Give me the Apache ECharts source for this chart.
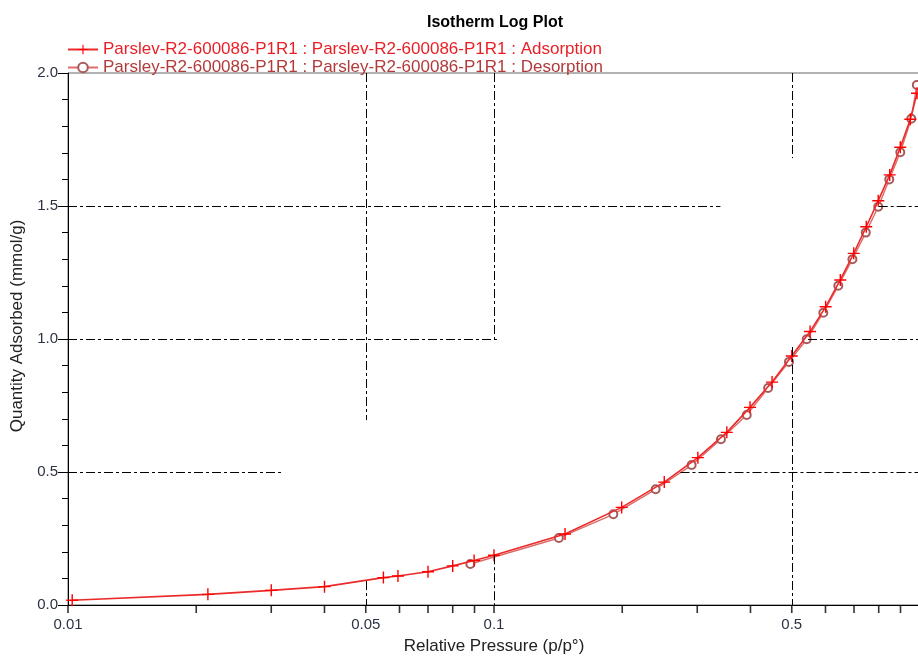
<!DOCTYPE html>
<html>
<head>
<meta charset="utf-8">
<script src="https://cdn.jsdelivr.net/npm/echarts@6/dist/echarts.min.js"></script>
<style>html,body{margin:0;padding:0;background:#fff;}#chart{width:918px;height:657px;}</style>
</head>
<body>
<div id="chart"></div>
<script>
// Adsorption branch (relative pressure, quantity adsorbed mmol/g)
var adsP = [0.01023, 0.0213, 0.0300, 0.0400, 0.0550, 0.0595, 0.0700, 0.0800, 0.0898, 0.1000, 0.1468, 0.1994, 0.2510, 0.3010, 0.3520, 0.3990, 0.4495, 0.5000, 0.5520, 0.6005, 0.6500, 0.6990, 0.7480, 0.7980, 0.8490, 0.8990, 0.9490, 0.9840];
var adsQ = [0.018, 0.040, 0.055, 0.069, 0.103, 0.109, 0.125, 0.147, 0.167, 0.187, 0.267, 0.367, 0.462, 0.554, 0.649, 0.743, 0.838, 0.936, 1.028, 1.121, 1.222, 1.322, 1.422, 1.520, 1.617, 1.721, 1.826, 1.924];
// Desorption branch
var desP = [0.983, 0.954, 0.899, 0.847, 0.798, 0.746, 0.694, 0.643, 0.593, 0.542, 0.4925, 0.440, 0.392, 0.341, 0.291, 0.2396, 0.1906, 0.142, 0.088];
var desQ = [1.955, 1.828, 1.702, 1.600, 1.497, 1.400, 1.300, 1.200, 1.099, 0.999, 0.914, 0.816, 0.714, 0.623, 0.526, 0.435, 0.341, 0.252, 0.154];
// Axis ticks / labels
var xTickValues = [0.01,0.02,0.03,0.04,0.05,0.06,0.07,0.08,0.09,0.1,0.2,0.3,0.4,0.5,0.6,0.7,0.8,0.9,1];
var xLabelValues = [0.01, 0.05, 0.1, 0.5];
var seriesNames = ['Parslev-R2-600086-P1R1 : Parslev-R2-600086-P1R1 : Adsorption', 'Parsley-R2-600086-P1R1 : Parsley-R2-600086-P1R1 : Desorption'];

function pairs(xs, ys){ return xs.map(function(x,i){ return [x, ys[i]]; }); }

var FONT = 'Liberation Sans, Arial, sans-serif';
var gridStyle = { color: '#000', width: 1, type: [9,3,3,3] };
function seg(a, b){ return [{coord: a}, {coord: b}]; }

var chart = echarts.init(document.getElementById('chart'), null, {renderer: 'canvas'});
chart.setOption({
  animation: false,
  backgroundColor: '#fff',
  title: {
    text: 'Isotherm Log Plot', left: 422, top: 10,
    textStyle: { fontFamily: FONT, fontSize: 16, fontWeight: 'bold', color: '#000' }
  },
  legend: {
    orient: 'vertical', left: 62, top: 36, itemGap: 1, itemWidth: 30, itemHeight: 12,
    textStyle: { fontFamily: FONT, fontSize: 17 },
    data: [
      { name: seriesNames[0], textStyle: { color: '#ea1f26' } },
      { name: seriesNames[1], textStyle: { color: '#b23a3a' } }
    ]
  },
  grid: { left: 68, right: -2, top: 73, bottom: 52, show: true, borderColor: '#666', borderWidth: 1,
    outerBoundsMode: 'none', containLabel: false },
  xAxis: {
    type: 'log', logBase: 10, min: 0.01, max: 1,
    name: 'Relative Pressure (p/p°)', nameLocation: 'middle', nameGap: 33,
    nameTextStyle: { fontFamily: FONT, fontSize: 17, color: '#222' },
    axisLine: { show: true, onZero: false, lineStyle: { color: '#000', width: 1 } },
    axisTick: { show: false },
    axisLabel: { customValues: xLabelValues, fontFamily: FONT, fontSize: 15, color: '#2b3242', margin: 12,
      formatter: function(v){ return String(+(+v).toPrecision(3)); } },
    splitLine: { show: false }, minorTick: { show: false }
  },
  yAxis: {
    type: 'value', min: 0, max: 2, interval: 0.5, position: 'left',
    name: 'Quantity Adsorbed (mmol/g)', nameLocation: 'middle', nameGap: 39,
    nameTextStyle: { fontFamily: FONT, fontSize: 17, color: '#222', padding: [0, 0, 0, 26] },
    axisLine: { show: true, onZero: false, lineStyle: { color: '#000', width: 1 } },
    axisTick: { show: true, length: 10, lineStyle: { color: '#000' } },
    minorTick: { show: true, splitNumber: 5, length: 6, lineStyle: { color: '#000' } },
    axisLabel: { fontFamily: FONT, fontSize: 15, color: '#2b3242', margin: 10,
      formatter: function(v){ return v.toFixed(1); } },
    splitLine: { show: false }
  },
  series: [
    {
      name: 'grid', type: 'line', data: [], silent: true, z: 1,
      markLine: {
        silent: true, symbol: 'none', label: { show: false }, lineStyle: gridStyle, animation: false,
        data: [
          seg([0.05, 2], [0.05, 0.695]), seg([0.05, 0.09], [0.05, 0]),
          seg([0.1, 2], [0.1, 1.0]), seg([0.1, 0.187], [0.1, 0]),
          seg([0.5, 2], [0.5, 1.68]), seg([0.5, 0.97], [0.5, 0]),
          seg([0.01, 0.5], [0.032, 0.5]), seg([0.274, 0.5], [1, 0.5]),
          seg([0.01, 1.0], [0.1016, 1.0]), seg([0.546, 1.0], [1, 1.0]),
          seg([0.01, 1.5], [0.34, 1.5]), seg([0.8, 1.5], [1, 1.5])
        ]
      }
    },
    {
      // x-axis tick marks (log decades 1..9), hanging below the axis line
      name: 'xticks', type: 'scatter', silent: true, z: 5, clip: false,
      data: xTickValues.map(function(v){ return [v, 0]; }),
      symbol: 'rect', symbolSize: [1.6, 8], symbolOffset: [0, 4],
      itemStyle: { color: '#000' }
    },
    {
      name: seriesNames[1], type: 'line', z: 3, data: pairs(desP, desQ),
      symbol: 'emptyCircle', symbolSize: 8,
      lineStyle: { color: '#de6a6a', width: 1.4 },
      itemStyle: { color: '#a85a5a', borderColor: '#a85a5a', borderWidth: 1 }
    },
    {
      name: seriesNames[0], type: 'line', z: 4, data: pairs(adsP, adsQ),
      symbol: 'path://M5.3,0h1.4v12h-1.4zM0,5.3h12v1.4h-12z', symbolSize: 12,
      lineStyle: { color: '#ec2a2a', width: 1.6 },
      itemStyle: { color: '#ff0000', borderWidth: 0 }
    }
  ]
});
</script>
</body>
</html>
